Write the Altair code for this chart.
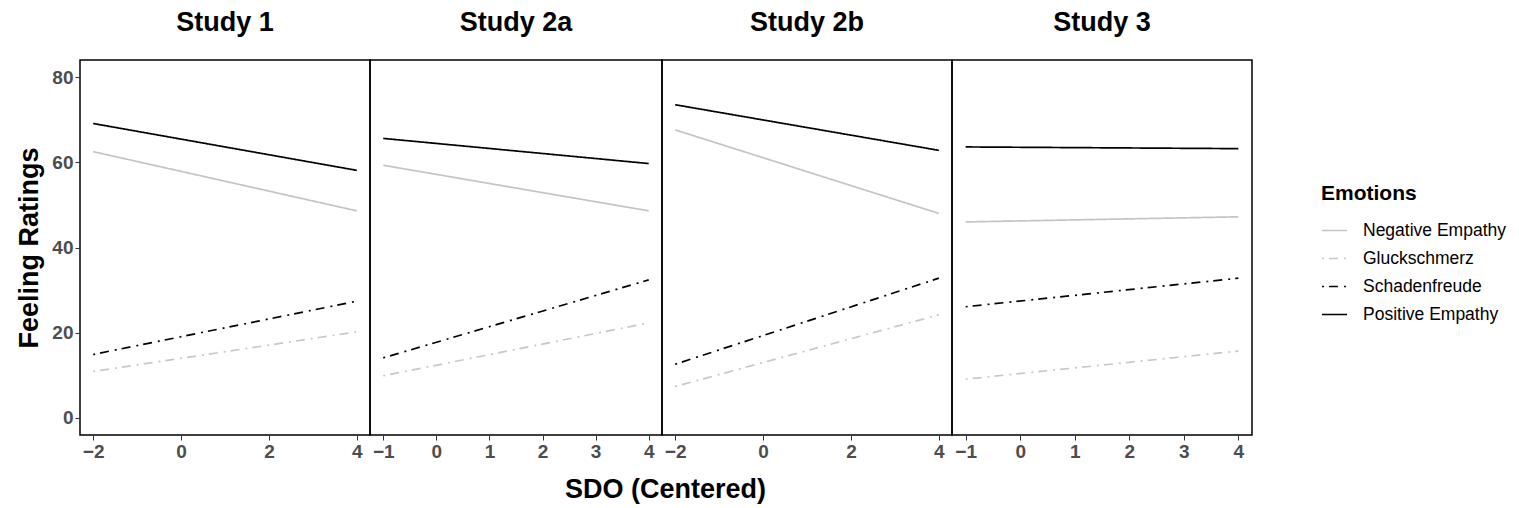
import altair as alt
import pandas as pd

# ---- data ----
study_names = ["Study 1", "Study 2a", "Study 2b", "Study 3"]
sdo_low = [-2, -1, -2, -1]
sdo_high = [4, 4, 4, 4]
emotions = ["Negative Empathy", "Gluckschmerz", "Schadenfreude", "Positive Empathy"]
neg_empathy_low = [62.5, 59.3, 67.6, 46.0]
neg_empathy_high = [48.6, 48.6, 48.0, 47.2]
gluck_low = [10.9, 9.9, 7.4, 9.1]
gluck_high = [20.2, 22.3, 24.2, 15.7]
schaden_low = [14.9, 14.1, 12.6, 26.1]
schaden_high = [27.4, 32.4, 32.8, 32.8]
pos_low = [69.1, 65.6, 73.5, 63.6]
pos_high = [58.1, 59.7, 62.8, 63.2]
x_tick_values = [[-2, 0, 2, 4], [-1, 0, 1, 2, 3, 4], [-2, 0, 2, 4], [-1, 0, 1, 2, 3, 4]]
y_tick_values = [0, 20, 40, 60, 80]

lows = [neg_empathy_low, gluck_low, schaden_low, pos_low]
highs = [neg_empathy_high, gluck_high, schaden_high, pos_high]

rows = []
for i, s in enumerate(study_names):
    for e, lo, hi in zip(emotions, lows, highs):
        rows.append({"study": s, "emotion": e, "sdo": sdo_low[i], "rating": lo[i]})
        rows.append({"study": s, "emotion": e, "sdo": sdo_high[i], "rating": hi[i]})
df = pd.DataFrame(rows)

FONT = "Liberation Sans"
x_domains = [[-2.3, 4.3], [-1.25, 4.25], [-2.3, 4.3], [-1.25, 4.25]]
widths = [290, 292, 290, 300]

color_scale = alt.Scale(domain=emotions, range=["#c4c4c4", "#c8c8c8", "#000000", "#000000"])
dash_scale = alt.Scale(domain=emotions, range=[[1, 0], [2, 5, 9, 6], [2, 5, 9, 6], [1, 0]])
width_scale = alt.Scale(domain=emotions, range=[1.7, 1.7, 2.1, 2.1])

legend = alt.Legend(
    title="Emotions", orient="none", legendX=1241, legendY=123,
    titleFontSize=21, titleFont=FONT, titleFontWeight="bold", titleColor="black",
    labelFontSize=17.5, labelFont=FONT, labelColor="black", labelOffset=15,
    symbolType="stroke", symbolSize=625, symbolStrokeWidth=2, rowPadding=6,
    titlePadding=13, padding=0,
)

panels = []
for i, s in enumerate(study_names):
    first = i == 0
    yaxis = alt.Axis(
        values=y_tick_values, title="Feeling Ratings", titleFontSize=27, titleFont=FONT,
        titleFontWeight="bold", titleColor="black", titlePadding=8,
        labelFontSize=19, labelFont=FONT, labelFontWeight="bold", labelColor="#4d4d4d",
        tickColor="#333333", tickSize=5, labelPadding=2, grid=False, domain=False,
    ) if first else None
    p = alt.Chart(df[df.study == s]).mark_line().encode(
        x=alt.X("sdo:Q", scale=alt.Scale(domain=x_domains[i], nice=False, zero=False),
                axis=alt.Axis(values=x_tick_values[i], title=None, labelFontSize=19, labelFont=FONT,
                              labelFontWeight="bold", labelColor="#4d4d4d", tickColor="#333333",
                              tickSize=5, labelPadding=2, grid=False, domain=False,
                              labelFlush=False)),
        y=alt.Y("rating:Q", scale=alt.Scale(domain=[-4, 84], nice=False, zero=False), axis=yaxis),
        color=alt.Color("emotion:N", scale=color_scale, sort=emotions, legend=legend),
        strokeDash=alt.StrokeDash("emotion:N", scale=dash_scale, sort=emotions, legend=legend),
        strokeWidth=alt.StrokeWidth("emotion:N", scale=width_scale, legend=None),
        detail="emotion:N",
    ).properties(
        width=widths[i], height=375,
        title=alt.TitleParams(s, fontSize=27, font=FONT, fontWeight="bold", color="black",
                              anchor="middle", offset=23),
    )
    panels.append(p)

chart = alt.hconcat(*panels, spacing=0, bounds="flush").properties(
    title=alt.TitleParams("SDO (Centered)", orient="bottom", anchor="start", frame="group",
                          fontSize=27, font=FONT, fontWeight="bold", color="black", dx=485, offset=15),
    padding={"left": 7, "top": 0, "right": 5, "bottom": 5},
).configure_view(stroke="black", strokeWidth=1.5).configure_legend(
    labelLimit=300
)

chart.save("out.html", embed_options={"renderer": "svg", "actions": False})
